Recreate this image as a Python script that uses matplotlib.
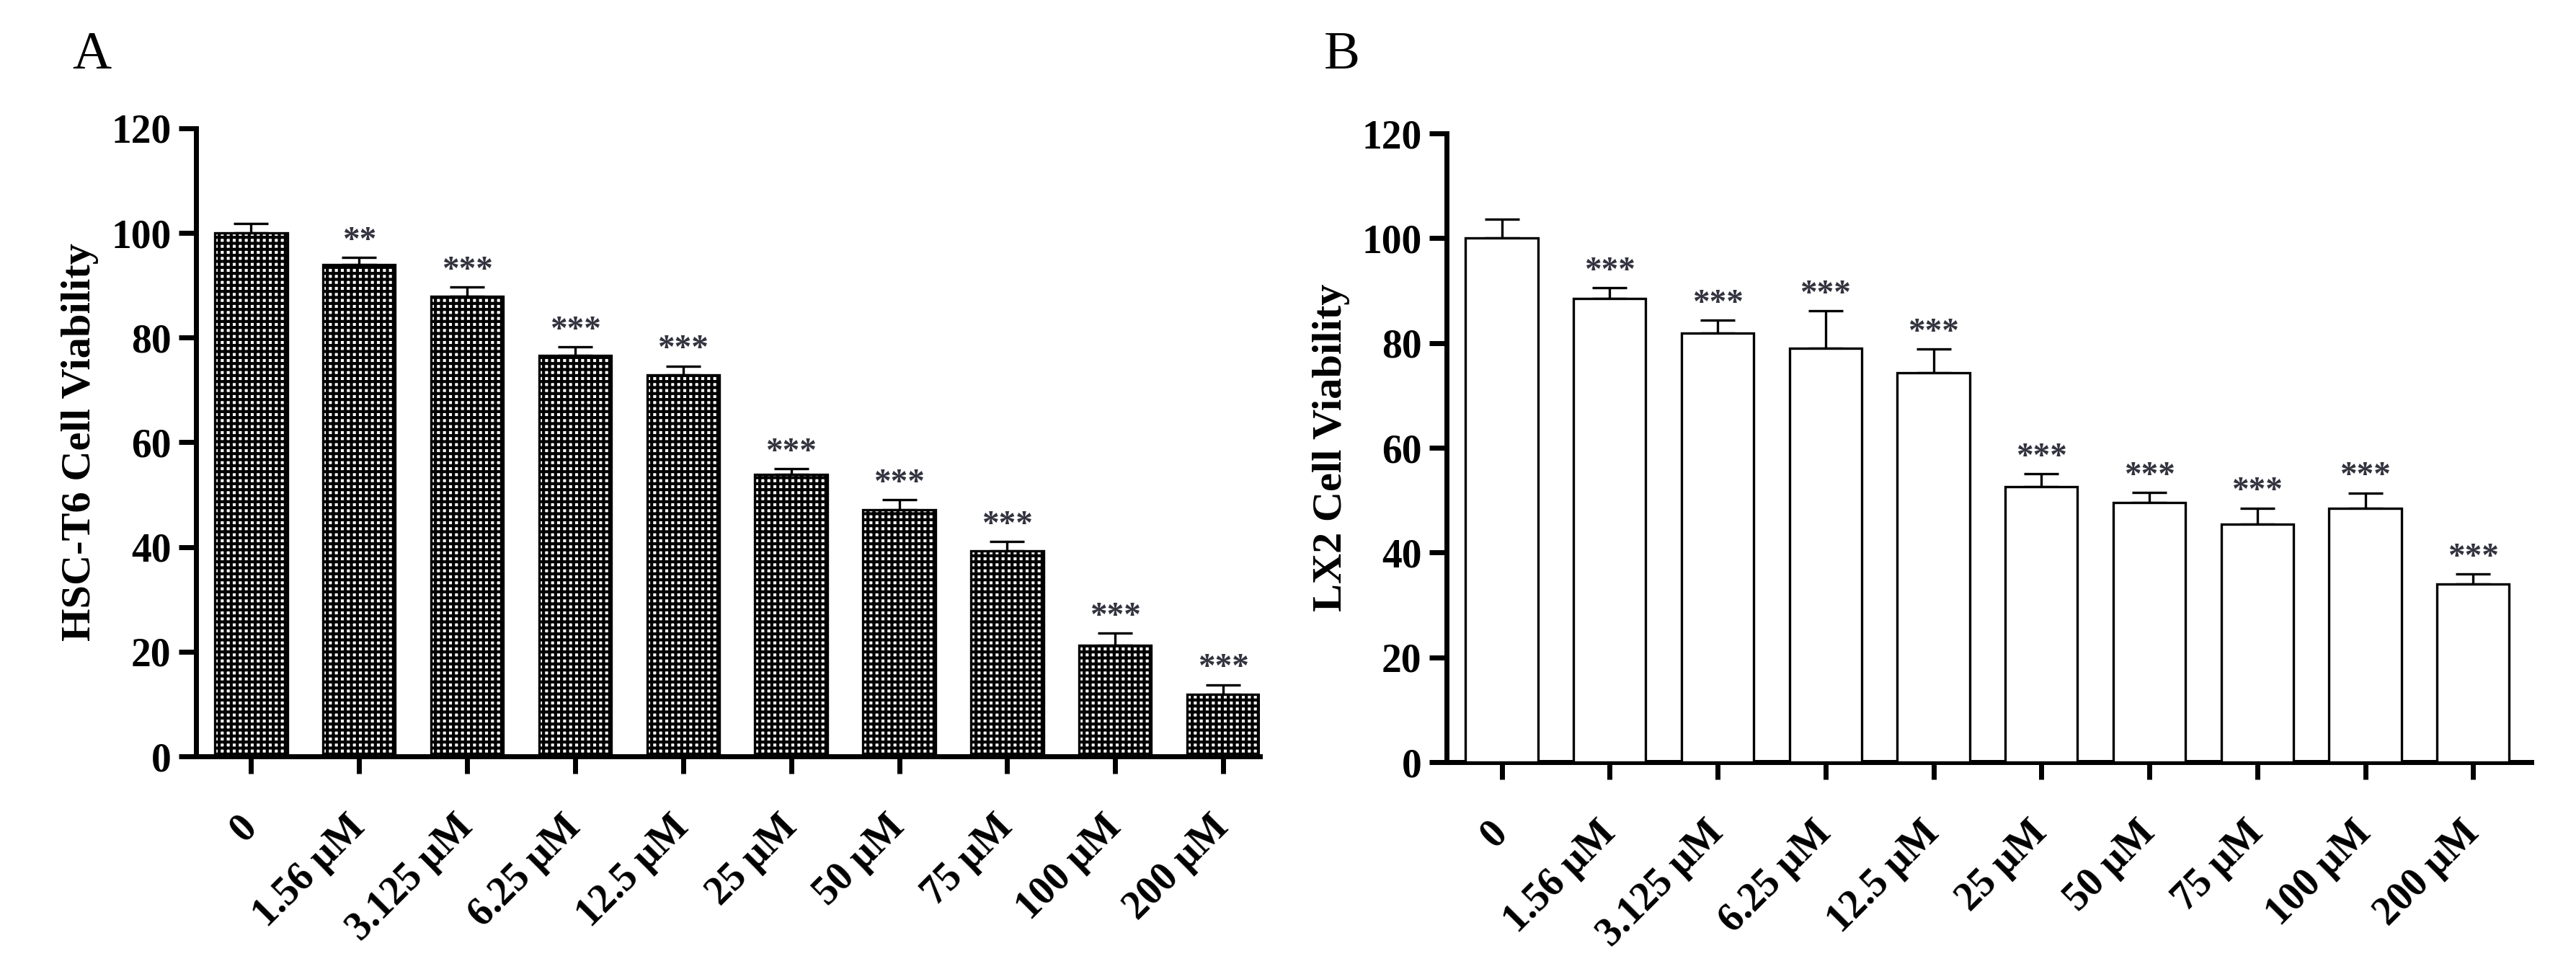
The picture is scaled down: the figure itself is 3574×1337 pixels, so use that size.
import matplotlib
matplotlib.use("Agg")
import matplotlib.pyplot as plt
import numpy as np

# concentrations on x
doses = ["0", "1.56 μM", "3.125 μM", "6.25 μM", "12.5 μM",
         "25 μM", "50 μM", "75 μM", "100 μM", "200 μM"]

# panel A - HSC-T6
hsc_mean = [100.0, 93.9, 87.9, 76.6, 72.9, 53.8, 47.1, 39.3, 21.2, 11.8]
hsc_sem = [1.8, 1.4, 1.8, 1.6, 1.7, 1.2, 1.9, 1.8, 2.4, 1.9]
hsc_sig = ["", "**", "***", "***", "***", "***", "***", "***", "***", "***"]

# panel B - LX2
lx2_mean = [100.0, 88.5, 81.9, 79.0, 74.3, 52.6, 49.6, 45.4, 48.5, 34.0]
lx2_sem = [3.6, 2.0, 2.5, 7.2, 4.6, 2.4, 1.9, 3.1, 2.9, 1.9]
lx2_sig = ["", "***", "***", "***", "***", "***", "***", "***", "***", "***"]

plt.rcParams["font.family"] = ["Liberation Serif", "DejaVu Serif"]
plt.rcParams["hatch.linewidth"] = 1.5

fig = plt.figure(figsize=(17.87, 6.685), dpi=200)
ax_a = fig.add_axes([0.0761, 0.2154, 0.4130, 0.6515])
ax_b = fig.add_axes([0.5616, 0.2094, 0.4211, 0.6522])


def draw_panel(ax, mean, sem, sig, ylabel, hatch, xmax):
    x = np.arange(len(doses))
    ax.bar(x, mean, width=0.67, color="white", edgecolor="black",
           linewidth=1.2, hatch=hatch, zorder=3)
    ax.errorbar(x, mean, yerr=[np.zeros(len(sem)), sem], fmt="none",
                ecolor="black", elinewidth=1.2, capsize=8.6, capthick=1.2,
                zorder=2)
    for xi, m, s, t in zip(x, mean, sem, sig):
        if t:
            ax.annotate(t, (xi, m + s), xytext=(0, 4), textcoords="offset points",
                        ha="center", va="baseline", fontsize=17,
                        fontweight="bold", color="#33333f")
    ax.set_xlim(-0.51, xmax)
    ax.set_ylim(0, 120)
    ax.set_yticks([0, 20, 40, 60, 80, 100, 120])
    ax.set_xticks(x)
    ax.set_xticklabels(doses, rotation=45, ha="right", va="center",
                       rotation_mode="anchor", fontsize=20, fontweight="bold")
    for lab in ax.get_yticklabels():
        lab.set_fontsize(20)
        lab.set_fontweight("bold")
    ax.set_ylabel(ylabel, fontsize=21, fontweight="bold", labelpad=6)
    for side in ["top", "right"]:
        ax.spines[side].set_visible(False)
    for side in ["left", "bottom"]:
        ax.spines[side].set_linewidth(2.5)
    ax.tick_params(axis="both", width=2.5, length=8.5, direction="out")
    ax.tick_params(axis="x", pad=24)
    ax.tick_params(axis="y", pad=4)


draw_panel(ax_a, hsc_mean, hsc_sem, hsc_sig, "HSC-T6 Cell Viability", "++++", 9.34)
draw_panel(ax_b, lx2_mean, lx2_sem, lx2_sig, "LX2 Cell Viability", None, 9.54)

fig.text(0.028, 0.929, "A", fontsize=27)
fig.text(0.514, 0.929, "B", fontsize=27)

fig.savefig("out.png", dpi=200)
